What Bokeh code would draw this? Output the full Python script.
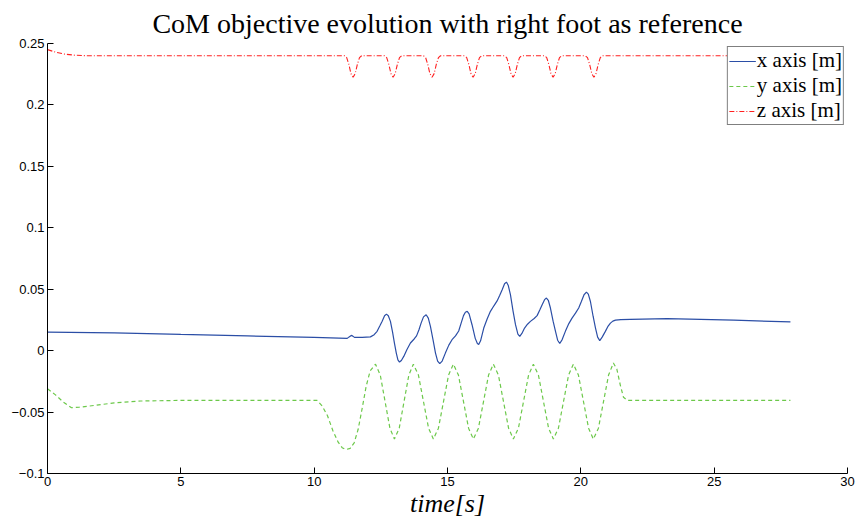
from bokeh.plotting import figure
from bokeh.models import FixedTicker, CustomJSTickFormatter, Legend, LegendItem
from bokeh.embed import file_html
from bokeh.resources import INLINE

# ---- data ----
x_ticks = [0, 5, 10, 15, 20, 25, 30]
y_ticks = [-0.1, -0.05, 0, 0.05, 0.1, 0.15, 0.2, 0.25]

x_t = [0, 2.5, 5, 7.5, 10, 11.24, 11.31, 11.39, 11.45, 11.51, 11.8, 12.11, 12.25, 12.36, 12.46,
       12.55, 12.64, 12.71, 12.78, 12.86, 12.94, 13.01, 13.08, 13.14, 13.20, 13.27, 13.36, 13.48,
       13.61, 13.75, 13.84, 13.93, 14.01, 14.1, 14.2, 14.28, 14.36, 14.46, 14.55, 14.63, 14.71,
       14.8, 14.92, 15.05, 15.17, 15.3, 15.42, 15.52, 15.6, 15.67, 15.74, 15.81, 15.92, 16.04,
       16.12, 16.17, 16.24, 16.36, 16.49, 16.61, 16.74, 16.86, 16.96, 17.05, 17.14, 17.21, 17.28,
       17.36, 17.46, 17.55, 17.64, 17.71, 17.79, 17.89, 18.0, 18.11, 18.25, 18.36, 18.46, 18.55,
       18.64, 18.71, 18.78, 18.86, 18.96, 19.05, 19.13, 19.21, 19.3, 19.42, 19.55, 19.67, 19.8,
       19.92, 20.02, 20.12, 20.21, 20.28, 20.36, 20.46, 20.55, 20.63, 20.71, 20.8, 20.92, 21.01,
       21.11, 21.2, 21.3, 21.5, 21.86, 23.24, 25.74, 27.86]
x_v = [0.0150, 0.0145, 0.0132, 0.0120, 0.0108, 0.0100, 0.0112, 0.0124, 0.0118, 0.0108, 0.0108,
       0.0112, 0.0130, 0.0157, 0.0200, 0.0240, 0.0284, 0.0297, 0.0284, 0.0238, 0.0150, 0.0062,
       -0.0020, -0.0075, -0.0093, -0.0080, -0.0047, 0.0010, 0.0062, 0.0095, 0.0120, 0.0170,
       0.0224, 0.0275, 0.0292, 0.0265, 0.0197, 0.0085, -0.0020, -0.0085, -0.0106, -0.0085,
       -0.0020, 0.0045, 0.0089, 0.0120, 0.0160, 0.0230, 0.0285, 0.0312, 0.0320, 0.0300, 0.0211,
       0.0100, 0.0058, 0.0050, 0.0080, 0.0184, 0.0260, 0.0320, 0.0365, 0.0405, 0.0450, 0.0496,
       0.0545, 0.0558, 0.0530, 0.0456, 0.0320, 0.0211, 0.0135, 0.0116, 0.0140, 0.0184, 0.0215,
       0.0238, 0.0262, 0.0285, 0.0330, 0.0374, 0.0415, 0.0428, 0.0410, 0.0347, 0.0240, 0.0157,
       0.0085, 0.0058, 0.0090, 0.0157, 0.0220, 0.0265, 0.0305, 0.0347, 0.0400, 0.0455, 0.0476,
       0.0460, 0.0400, 0.0280, 0.0184, 0.0110, 0.0082, 0.0110, 0.0157, 0.0195, 0.0224, 0.0240,
       0.0248, 0.0252, 0.0254, 0.0260, 0.0248, 0.0234]

y_t = [0, 0.3, 0.6, 0.9, 1.2, 1.8, 2.5, 3.5, 5, 10.11, 10.3, 10.5, 10.7, 10.9, 11.05, 11.2,
       11.35, 11.5, 11.65, 11.8, 11.95, 12.1, 12.3,
       12.48, 12.66, 12.84, 13.01, 13.19, 13.37, 13.55, 13.72,
       13.91, 14.10, 14.29, 14.47, 14.66, 14.85, 15.04, 15.22,
       15.41, 15.60, 15.79, 15.97, 16.16, 16.35, 16.54, 16.72,
       16.91, 17.10, 17.29, 17.47, 17.66, 17.85, 18.04, 18.22,
       18.41, 18.60, 18.79, 18.97, 19.16, 19.35, 19.54, 19.72,
       19.91, 20.10, 20.29, 20.47, 20.66, 20.85, 21.04, 21.22,
       21.35, 21.48, 21.6, 21.75, 27.86]
y_v = [-0.031, -0.036, -0.042, -0.0465, -0.046, -0.0445, -0.0425, -0.041, -0.0405, -0.0405,
       -0.045, -0.053, -0.065, -0.0745, -0.079, -0.0805, -0.0795, -0.075, -0.064, -0.047,
       -0.029, -0.0165, -0.011,
       -0.0199, -0.0415, -0.0631, -0.072, -0.0631, -0.0415, -0.0199, -0.011,
       -0.0199, -0.0415, -0.0631, -0.072, -0.0631, -0.0415, -0.0199, -0.011,
       -0.0199, -0.0415, -0.0631, -0.072, -0.0631, -0.0415, -0.0199, -0.011,
       -0.0199, -0.0415, -0.0631, -0.072, -0.0631, -0.0415, -0.0199, -0.011,
       -0.0199, -0.0415, -0.0631, -0.072, -0.0631, -0.0415, -0.0199, -0.011,
       -0.0199, -0.0415, -0.0631, -0.072, -0.0631, -0.0415, -0.0199, -0.010,
       -0.015, -0.028, -0.038, -0.0405, -0.0405]

z_t = [0, 0.3, 0.6, 1.0, 1.5,
       11.14, 11.22, 11.30, 11.38, 11.46, 11.54, 11.62, 11.70, 11.78,
       12.64, 12.72, 12.80, 12.88, 12.96, 13.04, 13.12, 13.20, 13.28,
       14.10, 14.18, 14.26, 14.34, 14.42, 14.50, 14.58, 14.66, 14.74,
       15.64, 15.72, 15.80, 15.88, 15.96, 16.04, 16.12, 16.20, 16.28,
       17.14, 17.22, 17.30, 17.38, 17.46, 17.54, 17.62, 17.70, 17.78,
       18.64, 18.72, 18.80, 18.88, 18.96, 19.04, 19.12, 19.20, 19.28,
       20.17, 20.25, 20.33, 20.41, 20.49, 20.57, 20.65, 20.73, 20.81,
       27.86]
z_v = [0.245, 0.243, 0.2415, 0.2405, 0.240,
       0.240, 0.2385, 0.233, 0.2255, 0.2225, 0.2255, 0.233, 0.2385, 0.240,
       0.240, 0.2385, 0.233, 0.2255, 0.2225, 0.2255, 0.233, 0.2385, 0.240,
       0.240, 0.2385, 0.233, 0.2255, 0.2225, 0.2255, 0.233, 0.2385, 0.240,
       0.240, 0.2385, 0.233, 0.2255, 0.2225, 0.2255, 0.233, 0.2385, 0.240,
       0.240, 0.2385, 0.233, 0.2255, 0.2225, 0.2255, 0.233, 0.2385, 0.240,
       0.240, 0.2385, 0.233, 0.2255, 0.2225, 0.2255, 0.233, 0.2385, 0.240,
       0.240, 0.2385, 0.233, 0.2255, 0.2225, 0.2255, 0.233, 0.2385, 0.240,
       0.240]

labels = ["x axis [m]", "y axis [m]", "z axis [m]"]

# ---- figure ----
p = figure(width=857, height=523, x_range=(0, 30), y_range=(-0.1, 0.25),
           output_backend="svg", toolbar_location=None,
           min_border_left=47, min_border_right=10, min_border_top=42, min_border_bottom=50,
           background_fill_color="white", border_fill_color="white")

p.title.text = "CoM objective evolution with right foot as reference"
p.title.align = "center"
p.title.text_font = "Liberation Serif"
p.title.text_font_size = "28px"
p.title.text_font_style = "normal"
p.title.text_color = "black"

p.outline_line_color = None
p.xgrid.visible = False
p.ygrid.visible = False

p.xaxis.ticker = FixedTicker(ticks=x_ticks)
p.yaxis.ticker = FixedTicker(ticks=y_ticks)
p.yaxis.formatter = CustomJSTickFormatter(
    code="var s = String(Number(tick.toFixed(2))); return s.replace('-', '\u2212');")
for ax in (p.xaxis, p.yaxis):
    ax.major_tick_in = 6
    ax.major_tick_out = 0
    ax.minor_tick_in = 0
    ax.minor_tick_out = 0
    ax.axis_line_color = "black"
    ax.major_tick_line_color = "black"
    ax.major_label_text_font = "Liberation Sans"
    ax.major_label_text_font_size = "13px"
    ax.major_label_text_color = "black"
p.yaxis.major_label_standoff = 3
p.xaxis.major_label_standoff = 3

p.xaxis.axis_label = "time[s]"
p.xaxis.axis_label_text_font = "Liberation Serif"
p.xaxis.axis_label_text_font_style = "italic"
p.xaxis.axis_label_text_font_size = "26px"
p.xaxis.axis_label_text_color = "black"
p.xaxis.axis_label_standoff = 0

rx = p.line(x_t, x_v, line_color="#2b4ea6", line_width=1.2)
ry = p.line(y_t, y_v, line_color="#6cc84a", line_width=1.2, line_dash="4 3")
rz = p.line(z_t, z_v, line_color="#ff2020", line_width=1.1, line_dash="5 2 1 2")

legend = Legend(items=[LegendItem(label=labels[0], renderers=[rx]),
                       LegendItem(label=labels[1], renderers=[ry]),
                       LegendItem(label=labels[2], renderers=[rz])],
                location="top_right")
legend.label_text_font = "Liberation Serif"
legend.label_text_font_size = "21px"
legend.label_text_color = "black"
legend.border_line_color = "black"
legend.border_line_width = 1
legend.background_fill_alpha = 1
legend.padding = 1
legend.spacing = 0
legend.margin = 3
legend.glyph_width = 27
legend.glyph_height = 22
legend.label_height = 22
legend.label_standoff = 1
p.add_layout(legend)

open("out.html", "w").write(file_html(p, INLINE))
